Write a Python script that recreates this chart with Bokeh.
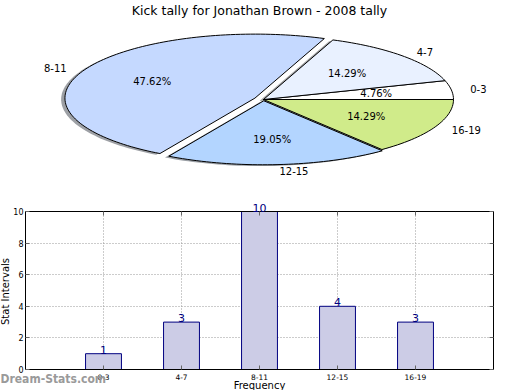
import numpy as np
from bokeh.plotting import figure
from bokeh.models import (Range1d, ColumnDataSource, LabelSet, Label, FixedTicker,
                          LinearAxis, Grid)
from bokeh.layouts import column
from bokeh.embed import file_html
from bokeh.resources import INLINE
from bokeh.core.properties import value

# ---- data ----
chart_title = "Kick tally for Jonathan Brown - 2008 tally"
categories = ["0-3", "4-7", "8-11", "12-15", "16-19"]
tally = [1, 3, 10, 4, 3]
explode = [0.0, 0.0, 0.05, 0.02, 0.0]
slice_colors = ["#ffffff", "#e9f1ff", "#c5d9ff", "#b3d5ff", "#d0eb8a"]
y_ticks = [0, 2, 4, 6, 8, 10]
x_label = "Frequency"
y_label = "Stat Intervals"
watermark = "Dream-Stats.com"

FONT = value("DejaVu Sans")
FONT_S = "DejaVu Sans"
W = 520

# ---- pie ----
PIE_H = 190
RX, RY = 190.0, 64.0
CX, CY = 263.0, 99.0
p1 = figure(width=W, height=PIE_H,
            x_range=Range1d(-CX / RX, (W - CX) / RX),
            y_range=Range1d(-(PIE_H - CY) / RY, CY / RY),
            output_backend="svg", toolbar_location=None,
            x_axis_type=None, y_axis_type=None, min_border=0)
p1.outline_line_color = None
p1.background_fill_color = "white"
p1.border_fill_color = "white"

total = float(sum(tally))
fr = np.array(tally) / total
cum = np.concatenate([[0.0], np.cumsum(fr)])

xs, ys, sxs, sys_, shadow_cols = [], [], [], [], []
lab_x, lab_y, lab_align, pct_x, pct_y, pct_txt = [], [], [], [], [], []
for i in range(len(tally)):
    a0, a1 = 2 * np.pi * cum[i], 2 * np.pi * cum[i + 1]
    mid = 0.5 * (a0 + a1)
    dx, dy = explode[i] * np.cos(mid), explode[i] * np.sin(mid)
    t = np.linspace(a0, a1, max(3, int(240 * fr[i])))
    px = [dx] + list(dx + np.cos(t)) + [dx]
    py = [dy] + list(dy + np.sin(t)) + [dy]
    xs.append(px); ys.append(py)
    sxs.append([v - 0.02 for v in px]); sys_.append([v - 0.02 for v in py])
    c = slice_colors[i]
    r, g, b = int(c[1:3], 16), int(c[3:5], 16), int(c[5:7], 16)
    shadow_cols.append("#%02x%02x%02x" % (int(r * 0.3), int(g * 0.3), int(b * 0.3)))
    lx, ly = dx + 1.1 * np.cos(mid), dy + 1.1 * np.sin(mid)
    lab_x.append(lx); lab_y.append(ly)
    lab_align.append("left" if lx > 0 else "right")
    pct_x.append(dx + 0.6 * np.cos(mid)); pct_y.append(dy + 0.6 * np.sin(mid))
    pct_txt.append("%.2f%%" % (100 * fr[i]))

p1.patches(sxs, sys_, fill_color=shadow_cols, fill_alpha=0.5, line_color=None)
p1.patches(xs, ys, fill_color=slice_colors, line_color="black", line_width=1)

lab_src = ColumnDataSource(dict(x=lab_x, y=lab_y, text=categories, align=lab_align))
p1.text(x="x", y="y", text="text", text_align="align", source=lab_src,
        text_baseline="middle", text_font=FONT, text_font_size="10px", text_color="black")
pct_src = ColumnDataSource(dict(x=pct_x, y=pct_y, text=pct_txt))
p1.text(x="x", y="y", text="text", source=pct_src, text_align="center",
        text_baseline="middle", text_font=FONT, text_font_size="10px", text_color="black")
p1.text(x=[(259 - CX) / RX], y=[(CY - 10) / RY], text=[chart_title], text_align="center",
        text_baseline="middle", text_font=FONT, text_font_size="12.5px", text_color="black")

# ---- bar ----
# frame covers the whole canvas (page y 190..390); axes sit at fixed data locations
BAR_TOP, BAR_H = 190, 200
PXU, PYU = 78.0, 15.8           # pixels per data unit
X0, Y0 = 25.0, 369.0            # page position of data (0, 0)
p2 = figure(width=W, height=BAR_H,
            x_range=Range1d(-X0 / PXU, (W - X0) / PXU),
            y_range=Range1d((Y0 - (BAR_TOP + BAR_H)) / PYU, (Y0 - BAR_TOP) / PYU),
            output_backend="svg", toolbar_location=None,
            x_axis_type=None, y_axis_type=None, min_border=0)
p2.outline_line_color = None
p2.background_fill_color = "white"
p2.border_fill_color = "white"

xpos = list(range(1, len(categories) + 1))
XMAX = len(categories) + 1
YMAX = y_ticks[-1]

grid_kw = dict(grid_line_color="#999999", grid_line_dash="1 2", grid_line_width=1)
xg = Grid(dimension=0, ticker=FixedTicker(ticks=xpos), bounds=(0, XMAX), **grid_kw)
yg = Grid(dimension=1, ticker=FixedTicker(ticks=y_ticks[1:-1]), bounds=(0, YMAX), **grid_kw)
try:
    xg.cross_bounds = (0, YMAX)
    yg.cross_bounds = (0, XMAX)
    use_own_grid = False
except Exception:
    use_own_grid = True
if not use_own_grid:
    p2.add_layout(xg)
    p2.add_layout(yg)

bar_src = ColumnDataSource(dict(x=xpos, top=tally, text=[str(v) for v in tally]))
p2.vbar(x="x", top="top", width=0.46, source=bar_src,
        fill_color="#ccccE6", line_color="#000080", line_width=1)

if use_own_grid:
    p2.segment(x0=xpos, y0=[0] * len(xpos), x1=xpos, y1=[YMAX] * len(xpos), **{
        "line_color": "#999999", "line_dash": "1 2", "line_width": 1})
    p2.segment(x0=[0] * 4, y0=y_ticks[1:-1], x1=[XMAX] * 4, y1=y_ticks[1:-1], **{
        "line_color": "#999999", "line_dash": "1 2", "line_width": 1})

p2.add_layout(LabelSet(x="x", y="top", text="text", source=bar_src, text_align="center",
                       text_baseline="bottom", text_font=FONT, text_font_size="11px",
                       text_color="#000080"))

def mk_axis(loc, bounds, ticks, labels=None, font_size="8px", standoff=3):
    ax = LinearAxis(fixed_location=loc, bounds=bounds, ticker=FixedTicker(ticks=ticks))
    ax.axis_line_color = "black"
    ax.axis_line_width = 1
    ax.major_tick_in = 4
    ax.major_tick_out = 0
    ax.major_tick_line_color = "#666666"
    ax.minor_tick_line_color = None
    ax.major_label_text_font = FONT_S
    ax.major_label_text_font_size = font_size
    ax.major_label_text_color = "black"
    ax.major_label_standoff = standoff
    if labels is not None:
        ax.major_label_overrides = {k: v for k, v in zip(ticks, labels)}
    return ax

p2.add_layout(mk_axis(0, (0, XMAX), xpos, categories, "7.5px", 4), "below")
p2.add_layout(mk_axis(0, (0, YMAX), y_ticks, None, "8px", 2), "left")
p2.add_layout(mk_axis(YMAX, (0, XMAX), xpos, [""] * len(xpos)), "above")
p2.add_layout(mk_axis(XMAX, (0, YMAX), y_ticks, [""] * len(y_ticks)), "right")

def bx(px):
    return (px - X0) / PXU
def by(py):
    return (Y0 - py) / PYU

p2.add_layout(Label(x=bx(5), y=by(291), text=y_label, angle=np.pi / 2, text_align="center",
                    text_baseline="middle", text_font=FONT_S, text_font_size="10px",
                    text_color="black"))
p2.add_layout(Label(x=bx(259), y=by(385), text=x_label, text_align="center",
                    text_baseline="middle", text_font=FONT_S, text_font_size="10px",
                    text_color="black"))
p2.add_layout(Label(x=bx(0), y=by(378), text=watermark, text_align="left",
                    text_baseline="middle", text_font="DejaVu Sans Condensed",
                    text_font_size="12px", text_font_style="bold",
                    text_color="#9a9a9a"))

layout = column(p1, p2)
open("out.html", "w").write(file_html(layout, INLINE))
